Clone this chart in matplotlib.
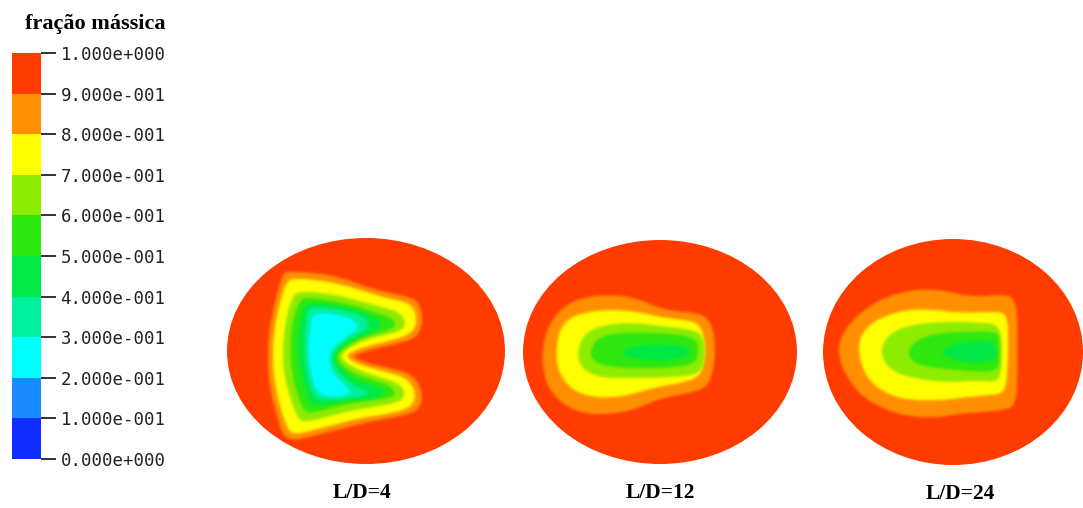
import numpy as np
import matplotlib
matplotlib.use("Agg")
import matplotlib.pyplot as plt
from matplotlib.colors import ListedColormap, BoundaryNorm
from matplotlib.cm import ScalarMappable
from matplotlib.patches import Ellipse, PathPatch
from matplotlib.path import Path

# contour levels of the mass fraction and the colour of each band
levels = [0.0, 0.1, 0.2, 0.3, 0.4, 0.5, 0.6, 0.7, 0.8, 0.9, 1.0]
band_colors = ["#0f2dff", "#1a8cff", "#00ffff", "#00f0a0", "#00ea48",
               "#2ee812", "#8eec00", "#ffff00", "#ff9000", "#ff3c00"]
tick_labels = ["0.000e+000", "1.000e-001", "2.000e-001", "3.000e-001",
               "4.000e-001", "5.000e-001", "6.000e-001", "7.000e-001",
               "8.000e-001", "9.000e-001", "1.000e+000"]

cases = ["L/D=4", "L/D=12", "L/D=24"]
half_width = [139, 137, 130]
half_height = [113, 112, 113]

# iso-lines of each section (section coordinates, origin at the centre)
ld4_lines = {
    0.9: [(-79, 79), (-51, 78), (-24, 73), (-1, 64), (22, 58), (42, 54), (52, 49),
          (56, 36), (55, 23), (49, 13), (29, 7), (2, 1), (-16, -5), (-1, -12),
          (22, -17), (42, -22), (52, -31), (56, -44), (54, -56), (46, -62),
          (22, -67), (-4, -72), (-31, -79), (-58, -86), (-74, -89), (-83, -84),
          (-89, -64), (-96, -37), (-98, -11), (-97, 16), (-93, 39), (-87, 63),
          (-83, 76)],
    0.8: [(-74, 72), (-51, 71), (-24, 66), (-1, 59), (22, 52), (39, 49), (47, 43),
          (50, 34), (49, 24), (43, 17), (26, 11), (-1, 5), (-23, -4), (-8, -14),
          (19, -21), (37, -26), (46, -34), (49, -44), (47, -52), (40, -58),
          (19, -63), (-8, -67), (-34, -74), (-58, -80), (-72, -83), (-78, -78),
          (-84, -61), (-90, -37), (-93, -11), (-92, 16), (-88, 39), (-82, 61),
          (-78, 69)],
    0.7: [(-68, 59), (-44, 58), (-18, 53), (6, 46), (26, 41), (36, 36), (39, 28),
          (36, 21), (22, 17), (-4, 11), (-29, -4), (-14, -17), (12, -26),
          (29, -31), (37, -37), (38, -46), (32, -51), (12, -55), (-14, -59),
          (-41, -66), (-61, -71), (-68, -67), (-74, -51), (-80, -31), (-83, -11),
          (-82, 16), (-78, 39), (-73, 54)],
    0.6: [(-61, 53), (-41, 51), (-14, 46), (6, 39), (22, 34), (29, 29), (27, 23),
          (16, 19), (-8, 13), (-33, -4), (-18, -21), (6, -29), (22, -34),
          (29, -41), (26, -46), (9, -49), (-18, -52), (-44, -59), (-58, -62),
          (-63, -57), (-69, -41), (-74, -21), (-75, 3), (-74, 26), (-69, 43),
          (-65, 50)],
    0.5: [(-58, 48), (-34, 46), (-10, 41), (8, 34), (16, 28), (10, 20), (-11, 13),
          (-35, -4), (-22, -23), (0, -33), (17, -38), (18, -43), (2, -48),
          (-21, -49), (-44, -54), (-55, -54), (-61, -38), (-66, -17), (-68, 3),
          (-66, 27), (-63, 41)],
    0.4: [(-56, 44), (-31, 42), (-9, 37), (4, 29), (-1, 20), (-19, 13), (-37, -4),
          (-27, -24), (-9, -37), (5, -42), (-9, -46), (-34, -49), (-50, -48),
          (-56, -35), (-60, -14), (-61, 6), (-60, 27), (-58, 38)],
    0.3: [(-52, 38), (-31, 37), (-12, 31), (-7, 22), (-22, 14), (-38, -1),
          (-35, -21), (-21, -35), (-14, -43), (-34, -46), (-48, -42), (-54, -28),
          (-57, -7), (-57, 13), (-55, 28)],
}

ld12_lines = {
    0.9: [(-117, 5), (-112, 25), (-98, 44), (-78, 54), (-52, 57), (-25, 54), (-5, 45),
          (15, 40), (35, 39), (47, 34), (53, 22), (55, 2), (53, -18), (47, -35),
          (28, -41), (5, -45), (-12, -51), (-28, -58), (-52, -62), (-78, -61),
          (-98, -51), (-112, -35), (-117, -15)],
    0.8: [(-103, 5), (-100, 22), (-90, 34), (-72, 40), (-45, 42), (-18, 39), (2, 34),
          (22, 32), (37, 29), (43, 19), (45, 2), (43, -15), (37, -26), (18, -31),
          (-5, -35), (-25, -41), (-45, -45), (-68, -45), (-87, -38), (-98, -25),
          (-103, -11)],
    0.7: [(-83, -1), (-75, 19), (-55, 27), (-28, 29), (5, 25), (32, 22), (42, 17),
          (45, 2), (43, -15), (35, -23), (5, -25), (-28, -26), (-62, -25),
          (-78, -16)],
    0.6: [(-70, 0), (-62, 14), (-42, 19), (-12, 19), (22, 17), (37, 12), (38, 0),
          (35, -11), (15, -15), (-18, -16), (-48, -15), (-65, -10)],
    0.5: [(-42, 0), (-22, 7), (12, 7), (28, 4), (30, -3), (12, -8), (-22, -8)],
}

ld24_lines = {
    0.9: [(-113, 12), (-103, 29), (-86, 44), (-66, 55), (-40, 62), (-13, 62), (7, 57),
          (27, 55), (47, 57), (60, 55), (64, 39), (64, 12), (64, -28), (62, -55),
          (47, -58), (27, -60), (7, -61), (-13, -65), (-40, -65), (-66, -58),
          (-90, -45), (-106, -25), (-114, -5)],
    0.8: [(-95, 9), (-86, 25), (-70, 35), (-46, 42), (-20, 42), (4, 39), (27, 39),
          (47, 40), (54, 35), (55, 12), (54, -18), (52, -41), (34, -43), (10, -45),
          (-13, -48), (-40, -48), (-63, -43), (-81, -31), (-91, -15)],
    0.7: [(-73, 0), (-65, 17), (-43, 27), (-6, 30), (27, 29), (47, 27), (49, -1),
          (47, -30), (27, -28), (-6, -30), (-40, -26), (-63, -18)],
    0.6: [(-45, 0), (-36, 12), (-13, 19), (20, 20), (44, 20), (46, 10), (46, -10),
          (42, -20), (10, -18), (-23, -15), (-40, -10)],
    0.5: [(-13, 0), (4, 9), (27, 11), (42, 9), (44, -5), (34, -10), (10, -10),
          (-3, -6)],
}

section_lines = [ld4_lines, ld12_lines, ld24_lines]


def smooth_path(points):
    # closed quadratic curve that uses the outline points as control points
    pts = np.asarray(points, dtype=float)
    mids = (pts + np.roll(pts, -1, axis=0)) / 2
    verts = [mids[-1]]
    codes = [Path.MOVETO]
    for p, m in zip(pts, mids):
        verts += [p, m]
        codes += [Path.CURVE3, Path.CURVE3]
    return Path(verts, codes)


def soft_edges(im, dpi, sigma=1.3):
    # feather the band edge: blur only the alpha, keep the flat band colour
    pad = 4
    out = np.pad(im, ((pad, pad), (pad, pad), (0, 0)))
    alpha = out[..., 3]
    solid = alpha > 0.99 * alpha.max()
    rgb = out[..., :3][solid].mean(axis=0)
    r = np.arange(-pad, pad + 1)
    kern = np.exp(-0.5 * (r / sigma) ** 2)
    kern /= kern.sum()
    for axis in (0, 1):
        acc = np.zeros_like(alpha)
        for w, s in zip(kern, r):
            acc += w * np.roll(alpha, s, axis=axis)
        alpha = acc
    out[..., :3] = rgb
    out[..., 3] = alpha
    return out, -pad, -pad


W, H = 1083, 508
fig = plt.figure(figsize=(W / 100, H / 100), dpi=100)

cmap = ListedColormap(band_colors)
norm = BoundaryNorm(levels, cmap.N)
sm = ScalarMappable(norm=norm, cmap=cmap)

# legend bar
cax = fig.add_axes([12 / W, (H - 459) / H, 29 / W, 406 / H])
cb = fig.colorbar(sm, cax=cax, ticks=levels)
cb.outline.set_visible(False)
cb.ax.set_yticklabels(tick_labels)
cax.tick_params(axis="y", length=11, width=1.3, pad=3, color="#222222",
                labelsize=12.5, labelcolor="#222222")
for lab in cax.get_yticklabels():
    lab.set_fontfamily("DejaVu Sans Mono")
fig.text(25 / W, 1 - 24 / H, "fração mássica", ha="left", va="center",
         fontfamily="Liberation Serif", fontweight="bold", fontsize=16)

# one axes per cross-section, sized in pixels
boxes = [(227, 44, 278, 226), (523, 44, 274, 224), (823, 43, 260, 226)]
label_shift = [-0.015, 0.0, 0.03]

for k, case in enumerate(cases):
    x0, y0, bw, bh = boxes[k]
    ax = fig.add_axes([x0 / W, y0 / H, bw / W, bh / H])
    a, b = half_width[k], half_height[k]
    ax.set_xlim(-a, a)
    ax.set_ylim(-b, b)
    ax.axis("off")

    ax.add_patch(Ellipse((0, 0), 2 * a, 2 * b, facecolor=sm.to_rgba(0.95),
                         edgecolor="none", clip_on=False))
    lines = section_lines[k]
    for lev in sorted(lines, reverse=True):
        color = sm.to_rgba(lev - 0.05)
        patch = PathPatch(smooth_path(lines[lev]), facecolor=color,
                          edgecolor=color, linewidth=0.6)
        patch.set_agg_filter(soft_edges)
        ax.add_patch(patch)

    ax.text(0.5 + label_shift[k], -0.13, case, transform=ax.transAxes,
            ha="center", va="center", fontfamily="Liberation Serif",
            fontweight="bold", fontsize=15.5)

fig.savefig("out.png", dpi=100, facecolor="white")
